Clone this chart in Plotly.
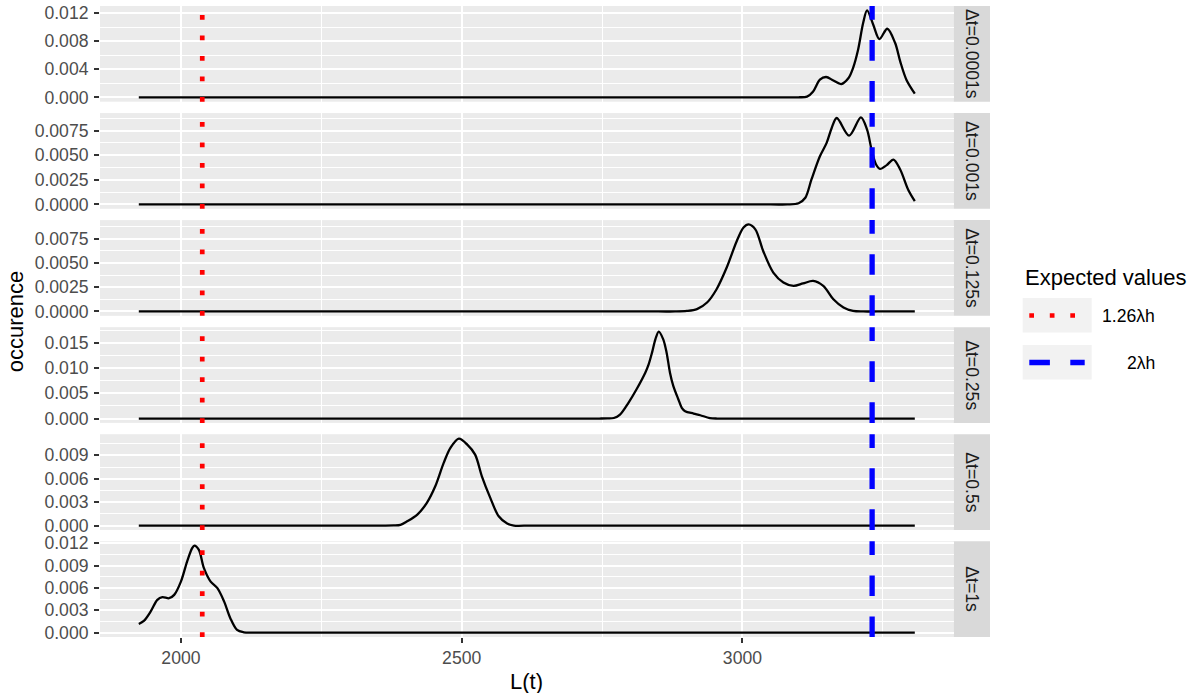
import plotly.graph_objects as go

# ---------------- data ----------------
panel_labels = ["Δt=0.0001s", "Δt=0.001s", "Δt=0.125s", "Δt=0.25s", "Δt=0.5s", "Δt=1s"]

x_p1 = [1925, 3060, 3085, 3100, 3115, 3126, 3138, 3149, 3162, 3176, 3189, 3197, 3206, 3215, 3222, 3233, 3244, 3258, 3272, 3281, 3292, 3307]
y_p1 = [0, 0, 0, 0.00001, 0.00010, 0.00085, 0.00252, 0.0029, 0.0024, 0.0019, 0.00276, 0.00418, 0.00679, 0.01059, 0.01240, 0.01035, 0.00831, 0.00978, 0.00774, 0.00512, 0.00252, 0.00053]

x_p2 = [1925, 3050, 3080, 3100, 3112, 3123, 3138, 3150, 3159, 3168, 3190, 3211, 3222, 3230, 3238, 3245, 3257, 3269, 3281, 3295, 3307]
y_p2 = [0, 0, 0, 0.00012, 0.00068, 0.00254, 0.0049, 0.00626, 0.00778, 0.00879, 0.0070, 0.00885, 0.0076, 0.00558, 0.00406, 0.00362, 0.0040, 0.00456, 0.00355, 0.00152, 0.00033]

x_p3 = [1925, 2850, 2880, 2901, 2919, 2937, 2954, 2972, 2990, 3002, 3011, 3023, 3037, 3055, 3073, 3091, 3108, 3126, 3144, 3162, 3180, 3197, 3215, 3240, 3307]
y_p3 = [0, 0, 0, 0.00005, 0.00024, 0.00092, 0.00229, 0.00452, 0.00725, 0.00863, 0.00895, 0.00845, 0.00622, 0.0040, 0.00298, 0.00263, 0.00288, 0.00314, 0.00263, 0.00126, 0.00041, 0.00006, 0, 0, 0]

x_p4 = [1925, 2720, 2745, 2760, 2771, 2782, 2797, 2812, 2827, 2833, 2839, 2845, 2851, 2859, 2865, 2871, 2877, 2886, 2892, 2898, 2913, 2925, 2942, 2955, 2980, 3307]
y_p4 = [0, 0, 0, 0.00002, 0.0001, 0.00079, 0.00311, 0.00589, 0.00906, 0.0107, 0.01302, 0.01566, 0.01720, 0.01566, 0.01302, 0.00906, 0.0064, 0.00377, 0.00212, 0.00145, 0.00099, 0.00065, 0.0001, 0, 0, 0]

x_p5 = [1925, 2330, 2360, 2379, 2391, 2403, 2421, 2438, 2453, 2468, 2480, 2495, 2510, 2524, 2536, 2551, 2566, 2581, 2593, 2620, 2650, 3307]
y_p5 = [0, 0, 0, 0.00002, 0.0001, 0.00055, 0.00141, 0.00291, 0.00503, 0.00803, 0.00995, 0.01114, 0.01037, 0.00909, 0.00631, 0.00355, 0.00119, 0.00026, 0, 0, 0, 0]

x_p6 = [1925, 1934, 1946, 1958, 1967, 1979, 1988, 2000, 2011, 2020, 2024, 2032, 2041, 2053, 2065, 2077, 2088, 2100, 2112, 2125, 2150, 3307]
y_p6 = [0.00117, 0.00157, 0.00282, 0.0044, 0.00476, 0.00462, 0.00507, 0.00685, 0.00954, 0.01134, 0.01168, 0.01111, 0.00866, 0.00685, 0.00597, 0.00417, 0.00194, 0.00036, 0.00005, 0, 0, 0]

xs = [x_p1, x_p2, x_p3, x_p4, x_p5, x_p6]
ys = [y_p1, y_p2, y_p3, y_p4, y_p5, y_p6]

y_dtick = [0.004, 0.0025, 0.0025, 0.005, 0.003, 0.003]
y_format = [".3f", ".4f", ".4f", ".3f", ".3f", ".3f"]

expected_labels = ["1.26λh", "2λh"]
expected_values = [2038, 3231]
expected_colors = ["#FF0000", "#0000FF"]

x_tick_vals = [2000, 2500, 3000]

# ---------------- layout geometry ----------------
FONT = "Liberation Sans"
W, Hfig = 1188, 693
ML, MR, MT, MB = 100, 198, 6, 56
PW = W - ML - MR
PH = Hfig - MT - MB
panel_right_px = 953.6
xdom = [0, (panel_right_px - ML) / PW]
panel_h = 95.7
panel_step = (PH - panel_h) / 5

def px2px(x):
    return (x - ML) / PW

def py2py(y):
    return 1 - (y - MT) / PH

xall = [v for arr in xs for v in arr]
xmin, xmax = min(xall), max(xall)
xr = xmax - xmin
xrange_ = [xmin - 0.05 * xr, xmax + 0.05 * xr]

fig = go.Figure()
layout = dict(
    width=W, height=Hfig,
    margin=dict(l=ML, r=MR, t=MT, b=MB, autoexpand=False),
    paper_bgcolor="white",
    plot_bgcolor="#EBEBEB",
    showlegend=False,
    font=dict(family=FONT, size=17.6, color="#4D4D4D"),
)

shapes = []
annotations = []

for i in range(6):
    top = panel_step * i
    dom = [max(0.0, 1 - (top + panel_h) / PH), min(1.0, 1 - top / PH)]
    xname = "xaxis" if i == 0 else f"xaxis{i+1}"
    yname = "yaxis" if i == 0 else f"yaxis{i+1}"
    xref = "x" if i == 0 else f"x{i+1}"
    yref = "y" if i == 0 else f"y{i+1}"
    bottom = (i == 5)

    fig.add_trace(go.Scatter(
        x=xs[i], y=ys[i], mode="lines",
        line=dict(color="black", width=2.3, shape="spline", smoothing=0.9),
        xaxis=xref, yaxis=yref, hoverinfo="skip",
    ))

    ymax = max(ys[i])
    layout[xname] = dict(
        domain=xdom, anchor=yref, range=xrange_, automargin=False,
        tickmode="array", tickvals=x_tick_vals,
        showticklabels=bottom,
        ticks="outside" if bottom else "", ticklen=5, tickwidth=2, tickcolor="#333333",
        showgrid=True, gridcolor="white", gridwidth=2,
        minor=dict(dtick=250, tick0=0, showgrid=True, gridcolor="white", gridwidth=1.1),
        zeroline=False, showline=False,
        tickfont=dict(size=17.6, color="#4D4D4D", family=FONT),
    )
    if i > 0:
        layout[xname]["matches"] = "x"
    layout[yname] = dict(
        domain=dom, anchor=xref, automargin=False,
        range=[-0.05 * ymax, 1.05 * ymax],
        tick0=0, dtick=y_dtick[i], tickformat=y_format[i],
        ticks="outside", ticklen=5, tickwidth=2, tickcolor="#333333",
        showgrid=True, gridcolor="white", gridwidth=2,
        minor=dict(dtick=y_dtick[i] / 2, tick0=0, showgrid=True, gridcolor="white", gridwidth=1.1),
        zeroline=False, showline=False,
        tickfont=dict(size=17.6, color="#4D4D4D", family=FONT),
        ticklabelstandoff=2,
    )

    # strip
    shapes.append(dict(type="rect", xref="paper", yref=f"{yref} domain",
                       x0=xdom[1], x1=1.0, y0=0, y1=1,
                       fillcolor="#D9D9D9", line=dict(width=0), layer="below"))
    annotations.append(dict(text=panel_labels[i], xref="paper", yref=f"{yref} domain",
                            x=(xdom[1] + 1.0) / 2, y=0.5, showarrow=False, textangle=90,
                            font=dict(size=17.6, color="#1A1A1A", family=FONT),
                            xanchor="center", yanchor="middle"))

    # expected value lines
    shapes.append(dict(type="line", xref=xref, yref=f"{yref} domain",
                       x0=expected_values[0], x1=expected_values[0], y0=0, y1=1,
                       line=dict(color=expected_colors[0], width=4.7, dash="4.7px,15.8px"),
                       layer="above"))
    shapes.append(dict(type="line", xref=xref, yref=f"{yref} domain",
                       x0=expected_values[1], x1=expected_values[1], y0=0, y1=1,
                       line=dict(color=expected_colors[1], width=5.3, dash="20.6px,20.4px"),
                       layer="above"))

# axis titles
annotations.append(dict(text="occurence", xref="paper", yref="paper",
                        x=px2px(15.7), y=py2py(321.5), showarrow=False, textangle=-90,
                        font=dict(size=22, color="black", family=FONT),
                        xanchor="center", yanchor="middle"))
annotations.append(dict(text="L(t)", xref="paper", yref="paper",
                        x=px2px(526.5), y=py2py(681), showarrow=False,
                        font=dict(size=22, color="black", family=FONT),
                        xanchor="center", yanchor="middle"))

# manual legend
annotations.append(dict(text="Expected values", xref="paper", yref="paper",
                        x=px2px(1023), y=py2py(277), showarrow=False,
                        font=dict(size=22, color="black", family=FONT),
                        xanchor="left", yanchor="middle"))
key_tops = [298, 345]
dashes = ["4.7px,15.8px", "20.6px,20.4px"]
widths = [4.7, 5.3]
for k in range(2):
    t = key_tops[k]
    shapes.append(dict(type="rect", xref="paper", yref="paper",
                       x0=px2px(1022.7), x1=px2px(1091.7), y0=py2py(t + 34.5), y1=py2py(t),
                       fillcolor="#F2F2F2", line=dict(width=0), layer="above"))
    cy = t + 17.5
    shapes.append(dict(type="line", xref="paper", yref="paper",
                       x0=px2px(1029.3), x1=px2px(1084.7), y0=py2py(cy), y1=py2py(cy),
                       line=dict(color=expected_colors[k], width=widths[k], dash=dashes[k]),
                       layer="above"))
    annotations.append(dict(text=expected_labels[k], xref="paper", yref="paper",
                            x=px2px(1157), y=py2py(cy), showarrow=False,
                            font=dict(size=17.6, color="black", family=FONT),
                            xanchor="right", yanchor="middle"))

layout["shapes"] = shapes
layout["annotations"] = annotations
fig.update_layout(**layout)
fig.write_html("out.html")
